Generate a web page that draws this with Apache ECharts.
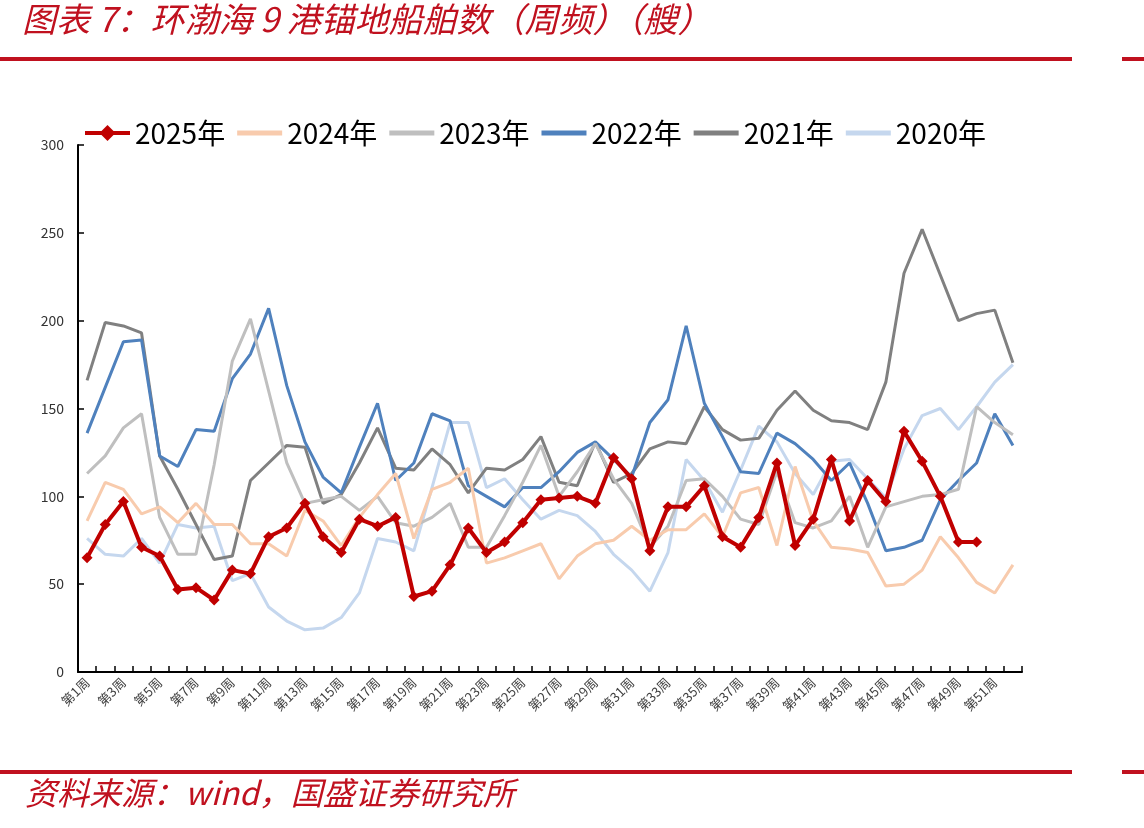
<!DOCTYPE html>
<html>
<head>
<meta charset="utf-8">
<script src="https://cdn.jsdelivr.net/npm/echarts@6/dist/echarts.min.js"></script>
<style>
html,body{margin:0;padding:0;background:#fff;}
#chart{width:1144px;height:828px;}
</style>
</head>
<body>
<div id="chart"></div>
<script>
var weeks = [];
for (var i = 1; i <= 52; i++) { weeks.push('第' + i + '周'); }

var legendNames = ['2025年', '2024年', '2023年', '2022年', '2021年', '2020年'];
var yTicks = [0, 50, 100, 150, 200, 250, 300];

var s2025 = [65, 84, 97, 71, 66, 47, 48, 41, 58, 56, 77, 82, 96, 77, 68, 87, 83, 88, 43, 46, 61, 82, 68, 74, 85, 98, 99, 100, 96, 122, 110, 69, 94, 94, 106, 77, 71, 88, 119, 72, 87, 121, 86, 109, 97, 137, 120, 100, 74, 74, null, null];
var s2024 = [86, 108, 104, 90, 94, 85, 96, 84, 84, 73, 73, 66, 92, 86, 72, 88, 101, 113, 76, 104, 108, 116, 62, 65, 69, 73, 53, 66, 73, 75, 83, 75, 81, 81, 90, 77, 102, 105, 72, 117, 86, 71, 70, 68, 49, 50, 58, 77, 65, 51, 45, 61];
var s2023 = [113, 123, 139, 147, 88, 67, 67, 118, 177, 201, 160, 119, 96, 98, 100, 92, 100, 85, 83, 88, 96, 71, 71, 89, 108, 129, 100, 114, 130, 110, 96, 71, 83, 109, 110, 100, 87, 84, 114, 85, 82, 86, 100, 71, 94, 97, 100, 101, 104, 151, 142, 135];
var s2022 = [136, 162, 188, 189, 123, 117, 138, 137, 167, 181, 207, 163, 131, 111, 102, 128, 153, 109, 119, 147, 143, 106, 100, 94, 105, 105, 114, 125, 131, 121, 111, 142, 155, 197, 153, 134, 114, 113, 136, 130, 121, 109, 119, 96, 69, 71, 75, 98, 109, 119, 147, 129];
var s2021 = [166, 199, 197, 193, 123, 104, 84, 64, 66, 109, 119, 129, 128, 96, 101, 119, 139, 116, 115, 127, 118, 102, 116, 115, 121, 134, 108, 106, 131, 108, 113, 127, 131, 130, 151, 138, 132, 133, 149, 160, 149, 143, 142, 138, 165, 227, 252, 226, 200, 204, 206, 176];
var s2020 = [76, 67, 66, 76, 62, 84, 82, 83, 52, 56, 37, 29, 24, 25, 31, 45, 76, 74, 69, 105, 142, 142, 105, 110, 98, 87, 92, 89, 80, 67, 58, 46, 68, 121, 109, 91, 115, 140, 131, 113, 101, 120, 121, 110, 99, 127, 146, 150, 138, 151, 165, 175];

var colors = ['#C00000', '#F8CBAD', '#BFBFBF', '#4F81BD', '#808080', '#C5D7EE'];
var seriesData = [s2025, s2024, s2023, s2022, s2021, s2020];

var titleText = '图表 7：环渤海 9 港锚地船舶数（周频）（艘）';
var sourceText = '资料来源：wind，国盛证券研究所';
var RED = '#C0111F';
var LINE_ICON = 'path://M0,0 L45,0 L45,5 L0,5 Z';
var MAIN_ICON = 'path://M0,6 L45,6 L45,10 L0,10 Z M22.5,0 L30.5,8 L22.5,16 L14.5,8 Z';

var series = legendNames.map(function (name, k) {
  var isMain = k === 0;
  return {
    name: name,
    type: 'line',
    data: seriesData[k],
    z: isMain ? 10 : 2 + (5 - k) * 0.1,
    symbol: isMain ? 'diamond' : 'none',
    symbolSize: isMain ? 11 : 0,
    showSymbol: isMain,
    itemStyle: { color: colors[k] },
    lineStyle: { color: colors[k], width: isMain ? 4 : 3 },
    connectNulls: false,
    animation: false
  };
});

var legendData = legendNames.map(function (name, k) {
  return { name: name, icon: k === 0 ? MAIN_ICON : LINE_ICON };
});

var chart = echarts.init(document.getElementById('chart'), null, { renderer: 'canvas' });
chart.setOption({
  backgroundColor: '#fff',
  animation: false,
  color: colors,
  textStyle: { fontFamily: '"Noto Sans CJK SC", "Noto Sans", sans-serif' },
  grid: { left: 78, right: 122, top: 145, bottom: 156, containLabel: false },
  legend: {
    data: legendData,
    left: 80,
    top: 114,
    itemWidth: 45,
    itemHeight: 16,
    itemGap: 12,
    textStyle: { fontSize: 28, color: '#000', fontFamily: '"Noto Sans CJK SC", sans-serif' }
  },
  xAxis: {
    type: 'category',
    data: weeks,
    boundaryGap: true,
    axisLine: { show: true, lineStyle: { color: '#000', width: 2 } },
    axisTick: { show: true, inside: true, length: 6, interval: 0, lineStyle: { color: '#000', width: 1.5 } },
    axisLabel: { interval: 1, rotate: 45, fontSize: 13, color: '#404040', margin: 8 },
    splitLine: { show: false }
  },
  yAxis: {
    type: 'value',
    min: yTicks[0],
    max: yTicks[yTicks.length - 1],
    interval: 50,
    axisLine: { show: true, lineStyle: { color: '#000', width: 2 } },
    axisTick: { show: true, inside: true, length: 6, lineStyle: { color: '#000', width: 1.5 } },
    axisLabel: { fontSize: 14, color: '#333', margin: 14 },
    splitLine: { show: false }
  },
  series: series,
  graphic: [
    { type: 'text', left: 22, top: 2, style: { text: titleText, fill: RED, font: 'italic 34px "Noto Sans CJK SC"' } },
    { type: 'rect', shape: { x: 0, y: 57, width: 1072, height: 4 }, style: { fill: RED } },
    { type: 'rect', shape: { x: 1122, y: 57, width: 22, height: 4 }, style: { fill: RED } },
    { type: 'rect', shape: { x: 0, y: 770, width: 1072, height: 4 }, style: { fill: RED } },
    { type: 'rect', shape: { x: 1122, y: 770, width: 22, height: 4 }, style: { fill: RED } },
    { type: 'text', left: 25, top: 777, style: { text: sourceText, fill: RED, font: 'italic 32px "Noto Sans CJK SC"' } }
  ]
});
</script>
</body>
</html>
